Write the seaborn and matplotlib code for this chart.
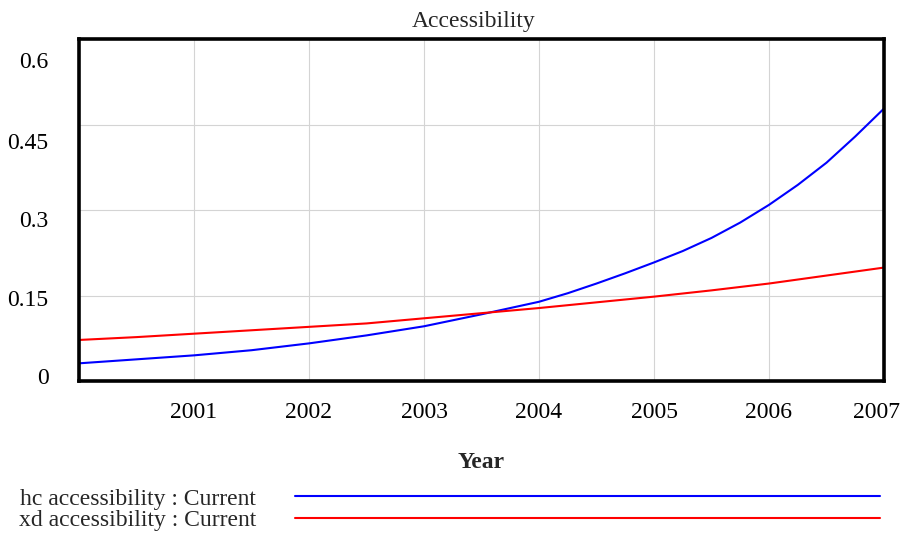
import numpy as np
import pandas as pd
import matplotlib
matplotlib.use("Agg")
import matplotlib.pyplot as plt
import seaborn as sns
from matplotlib.transforms import ScaledTranslation

# ---- data ----
hc_time = [2000, 2000.5, 2001, 2001.5, 2002, 2002.5, 2003, 2003.5,
           2004, 2004.25, 2004.5, 2004.75, 2005, 2005.25, 2005.5, 2005.75,
           2006, 2006.25, 2006.5, 2006.75, 2007]
hc_accessibility = [0.031, 0.038, 0.045, 0.054, 0.066, 0.080, 0.096, 0.117,
                    0.139, 0.154, 0.171, 0.189, 0.208, 0.228, 0.251, 0.278,
                    0.309, 0.344, 0.383, 0.429, 0.478]
xd_time = [2000, 2000.5, 2001, 2001.5, 2002, 2002.5, 2003, 2003.5,
           2004, 2004.5, 2005, 2005.5, 2006, 2006.5, 2007]
xd_accessibility = [0.072, 0.077, 0.083, 0.089, 0.095, 0.101, 0.110, 0.119,
                    0.128, 0.138, 0.148, 0.159, 0.171, 0.185, 0.199]
series_names = ["hc accessibility : Current", "xd accessibility : Current"]
series_colors = ["#0000ff", "#ff0000"]
x_ticks = [2001, 2002, 2003, 2004, 2005, 2006, 2007]
x_tick_labels = ["2001", "2002", "2003", "2004", "2005", "2006", "2007"]
y_ticks = [0, 0.15, 0.3, 0.45, 0.6]
y_tick_labels = ["0", "0.15", "0.3", "0.45", "0.6"]
title = "Accessibility"
x_label = "Year"

df = pd.DataFrame({
    "Year": hc_time + xd_time,
    "value": hc_accessibility + xd_accessibility,
    "series": [series_names[0]] * len(hc_time) + [series_names[1]] * len(xd_time),
})

sns.set_theme(style="white")
plt.rcParams["font.family"] = ["Liberation Serif", "DejaVu Serif"]
FS = 17

W, H = 901, 534
fig = plt.figure(figsize=(W / 100, H / 100), dpi=100)
ax = fig.add_axes([79 / W, 1 - 381 / H, (884 - 79) / W, (381 - 39) / H])

sns.lineplot(data=df, x="Year", y="value", hue="series", hue_order=series_names,
             palette=dict(zip(series_names, series_colors)), linewidth=1.5,
             ax=ax, legend=True)

ax.set_xlim(2000, 2007)
ax.set_ylim(0, 0.6)
ax.set_xticks(x_ticks)
ax.set_xticklabels(x_tick_labels, fontsize=FS)
ax.set_yticks(y_ticks)
ax.set_yticklabels(y_tick_labels, fontsize=FS)
ax.tick_params(axis="both", length=0, colors="black")
ax.tick_params(axis="x", pad=15)
ax.tick_params(axis="y", pad=22)
ax.grid(True, color="#d4d4d4", linewidth=0.8)
ax.set_axisbelow(True)
for s in ax.spines.values():
    s.set_visible(True)
    s.set_color("black")
    s.set_linewidth(2.6)

# Vensim-style label placement offsets (pixels, positive = down)
y_offsets_px = [-4.5, 2, 9, 16.5, 21]
for lab, dy in zip(ax.get_yticklabels(), y_offsets_px):
    lab.set_transform(lab.get_transform() + ScaledTranslation(0, -dy / 100, fig.dpi_scale_trans))
last = ax.get_xticklabels()[-1]
last.set_transform(last.get_transform() + ScaledTranslation(-0.07, 0, fig.dpi_scale_trans))

ax.set_ylabel("")
ax.set_xlabel(x_label, fontsize=FS, fontweight="bold", labelpad=21)
ax.set_title(title, fontsize=FS, x=0.49, pad=9)

sns.move_legend(ax, "center left", bbox_to_anchor=(19 / W, 1 - 509.5 / H),
                bbox_transform=fig.transFigure, frameon=False, title=None,
                markerfirst=False, fontsize=FS, handlelength=24.8,
                handletextpad=1.62, labelspacing=0.0, borderpad=0,
                borderaxespad=0)

fig.savefig("out.png", dpi=100, facecolor="white")
